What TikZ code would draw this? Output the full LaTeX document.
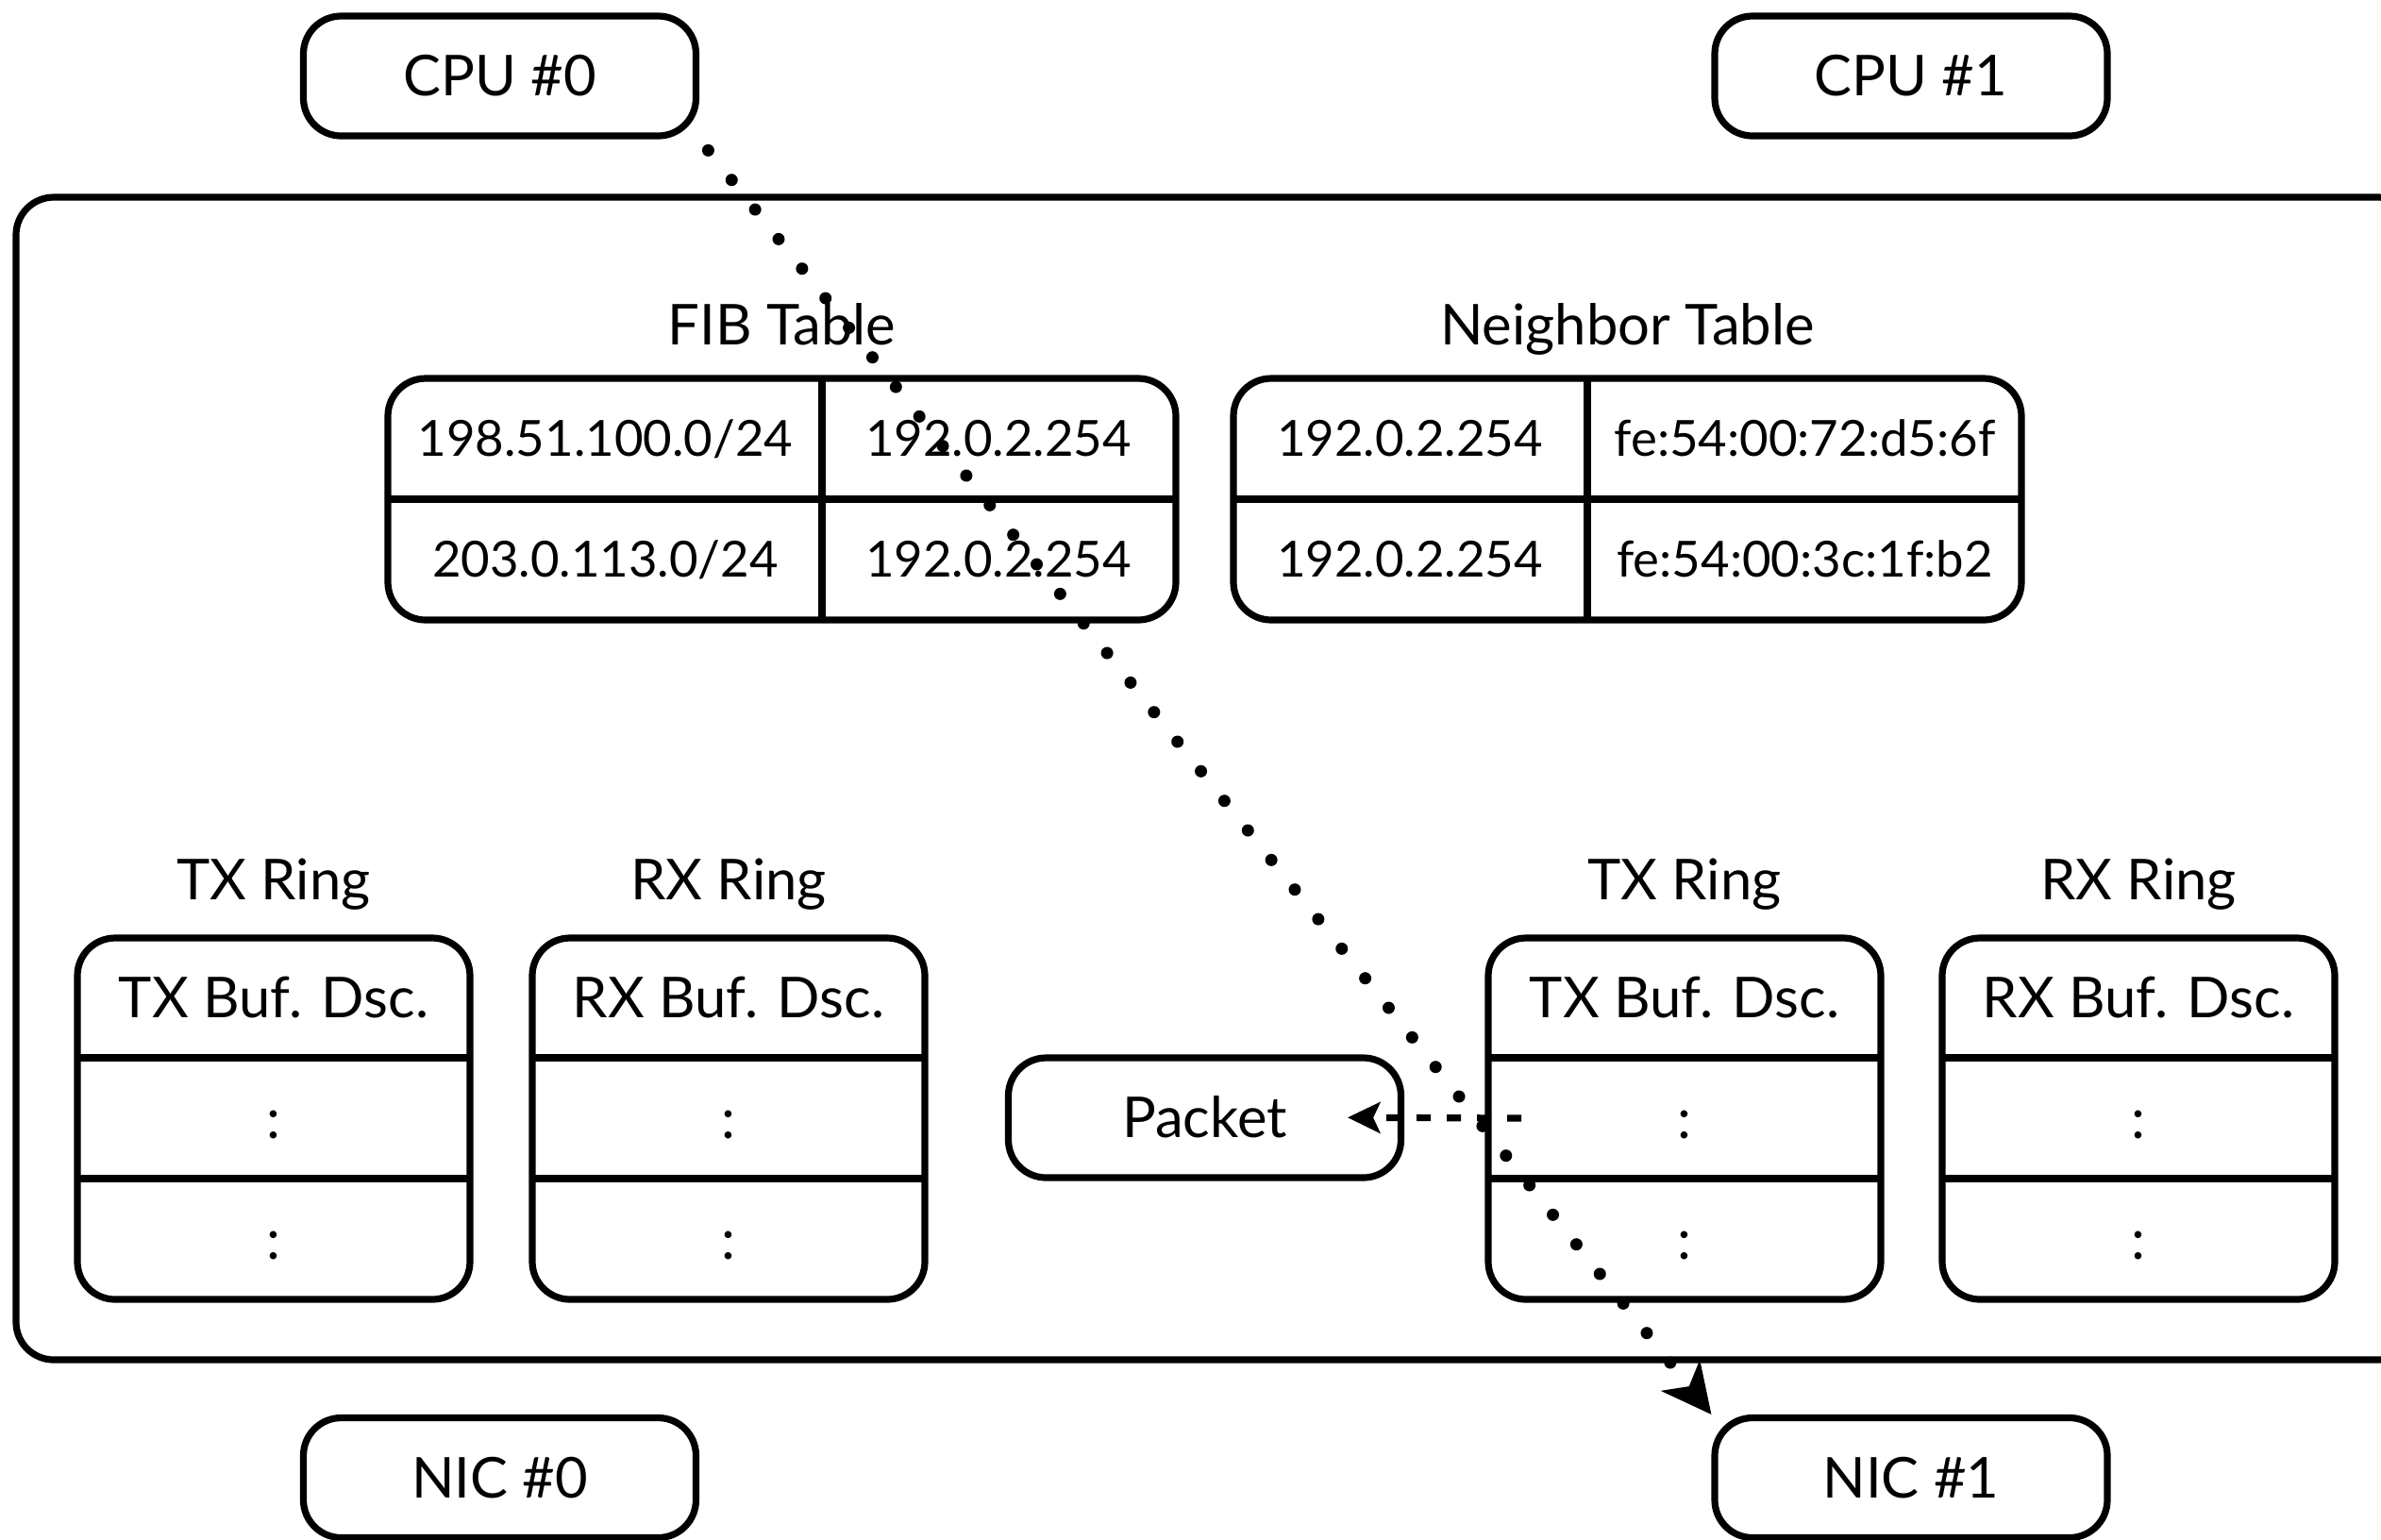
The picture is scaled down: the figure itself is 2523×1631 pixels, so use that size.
\documentclass[tikz,border=0pt]{standalone}
\usepackage{fontspec}
\setmainfont{Lato}
\usetikzlibrary{arrows.meta}

\begin{document}
\begin{tikzpicture}[x=0.1mm, y=-0.1mm, line width=0.72mm,
      box/.style={draw, rounded corners=4mm, inner sep=0pt, minimum width=41.6mm, minimum height=12.7mm,
        font=\fontsize{17}{20}\selectfont, text height=12.2pt, text depth=0pt},
      tbl/.style={draw, rounded corners=4mm, inner sep=0pt, minimum width=83.5mm, minimum height=25.6mm},
      cell/.style={inner sep=0pt, font=\fontsize{15}{18}\selectfont, text height=10.8pt, text depth=0pt},
      bigcell/.style={inner sep=0pt, font=\fontsize{17}{20}\selectfont, text height=12.2pt, text depth=0pt},
      title/.style={anchor=base, inner sep=0pt, font=\fontsize{17}{20}\selectfont},
      ring/.style={draw, rounded corners=4mm, inner sep=0pt, minimum width=41.6mm, minimum height=38.3mm},
      fetch/.style={dash pattern=on 1.5mm off 1.7mm,
        -{Stealth[length=3.5mm, width=3.4mm, inset=0.8mm, line width=0pt]}, shorten >=-6mm},
      fwd/.style={line width=1.3mm, line cap=round, dash pattern=on 0pt off 4mm, shorten <=1.5mm,
        -{Stealth[length=5.3mm, width=5.3mm, inset=1.5mm, line width=0pt]}}]

    \useasboundingbox (0,0) rectangle (2523,1631);

    % 1. CPUs e NICs
    \node[box] (cpu0) at (529.5,80.5) {CPU \#0};
    \node[box] (cpu1) at (2025,80.5) {CPU \#1};
    \node[box] (nic0) at (529.5,1566) {NIC \#0};
    \node[box] (nic1) at (2025,1566) {NIC \#1};

    % 2. moldura (sai pela borda direita)
    \draw[rounded corners=4mm] (17,209) rectangle (2560,1441);

    % 3. tabela FIB
    \node[title] (fibt) at (828.5,365) {FIB Table};
    \node[tbl] (fib) at (828.5,529) {};
    \draw (871,401) -- (871,657);
    \draw (412,529) -- (1245,529);
    \node[cell] (fib11) at (641.5,465) {198.51.100.0/24};
    \node[cell] (fib12) at (1058,465) {192.0.2.254};
    \node[cell] (fib21) at (641.5,593) {203.0.113.0/24};
    \node[cell] (fib22) at (1058,593) {192.0.2.254};

    % 4. tabela de vizinhos
    \node[title] (neit) at (1724.5,365) {Neighbor Table};
    \node[tbl] (nei) at (1724.5,529) {};
    \draw (1682,401) -- (1682,657);
    \draw (1306,529) -- (2143,529);
    \node[cell] (nei11) at (1494,465) {192.0.2.254};
    \node[cell] (nei12) at (1912.5,465) {fe:54:00:72:d5:6f};
    \node[cell] (nei21) at (1494,593) {192.0.2.254};
    \node[cell] (nei22) at (1912.5,593) {fe:54:00:3c:1f:b2};

    % 5. aneis TX/RX das duas NICs
    \foreach \x/\n/\t in {290/tx0/TX, 772/rx0/RX, 1785/tx1/TX, 2266/rx1/RX} {
      \node[title] (\n-title) at (\x,953) {\t\ Ring};
      \node[ring] (\n) at (\x,1185.5) {};
      \draw (\x-208,1121) -- (\x+208,1121);
      \draw (\x-208,1249) -- (\x+208,1249);
      \node[bigcell] (\n-a) at (\x,1057.5) {\t\ Buf. Dsc.};
      \node[bigcell] (\n-b) at (\x,1185) {:};
      \node[bigcell] (\n-c) at (\x,1313) {:};
    }

    % 6. pacote e setas
    \node[box] (pkt) at (1276.5,1184.5) {Packet};
    \coordinate (dsc) at (1612,1185);
    \draw[fetch] (dsc) -- (pkt.east);

    \draw[fwd] (cpu0.south east) -- (nic1.north west);

\end{tikzpicture}
\end{document}
